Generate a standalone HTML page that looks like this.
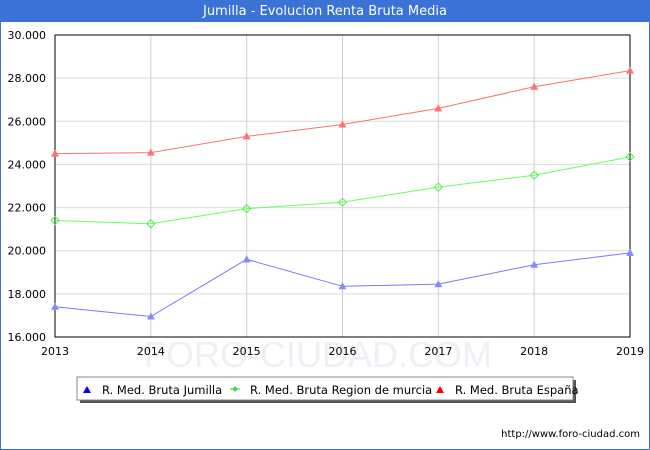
<!DOCTYPE html>
<html><head><meta charset="utf-8"><style>
body{margin:0;width:650px;height:450px;font-family:"DejaVu Sans","Liberation Sans",sans-serif;}
#wrap{position:relative;width:648px;height:448px;border:1px solid #3a72d6;background:#fff;}
#title{position:absolute;left:0;top:0;width:648px;height:21px;background:#3a72d6;color:#fff;font-size:13px;text-align:center;line-height:21px;}
</style></head><body>
<div id="wrap">
<div id="title">Jumilla - Evolucion Renta Bruta Media</div>
<svg id="chart" width="650" height="450" style="position:absolute;left:-1px;top:-1px"></svg>
</div>
<script>
const years=[2013,2014,2015,2016,2017,2018,2019];
const jumilla=[17400,16950,19600,18350,18450,19350,19900];
const murcia=[21400,21250,21950,22250,22950,23500,24350];
const espana=[24500,24550,25300,25850,26600,27600,28350];
const yTicks=[16000,18000,20000,22000,24000,26000,28000,30000];
const L=55,R=630,T=35,B=337,ymin=16000,ymax=30000;
const NS="http://www.w3.org/2000/svg";
const svg=document.getElementById('chart');
function x(i){return L+(R-L)*i/(years.length-1);}
function y(v){return B-(B-T)*(v-ymin)/(ymax-ymin);}
function mk(t,a,p){const e=document.createElementNS(NS,t);for(const k in a)e.setAttribute(k,a[k]);(p||svg).appendChild(e);return e;}
function fmt(v){return String(v).replace(/(\d)(\d{3})$/,'$1.$2');}
// watermark
const wm=mk('text',{x:318,y:367,'font-size':36,fill:'#eef0f6','text-anchor':'middle','font-family':'Liberation Sans, sans-serif'});


wm.textContent='FORO-CIUDAD.COM';
yTicks.forEach(v=>{
  const g=mk('line',{x1:L,x2:R,y1:y(v),y2:y(v),stroke:'#dcdcdc'});
  
  
  const t=mk('text',{x:46,y:y(v)+4,'font-size':11,'text-anchor':'end',fill:'#000'});
  
  
  t.textContent=fmt(v);
});
years.forEach((yr,i)=>{
  const g=mk('line',{x1:x(i),x2:x(i),y1:T,y2:B,stroke:'#cfcfcf'});
  
  
  const t=mk('text',{x:x(i),y:355,'font-size':11,'text-anchor':'middle',fill:'#000'});
  
  
  t.textContent=yr;
});
const ax=mk('rect',{x:L,y:T,width:R-L,height:B-T,fill:'none',stroke:'#000'});


function tri(cx,cy,c,p){return mk('path',{d:`M${cx-4},${cy+3}L${cx},${cy-4}L${cx+4},${cy+3}Z`,fill:c},p);}
function series(data,line,mark,kind,name){
  const pts=data.map((v,i)=>x(i)+','+y(v)).join(' ');
  const pl=mk('polyline',{points:pts,fill:'none',stroke:line,'stroke-width':1});
  
  
  data.forEach((v,i)=>{
    let m;
    if(kind==='tri'){m=tri(x(i),y(v),mark);}
    else{m=mk('path',{d:`M${x(i)-4},${y(v)}L${x(i)},${y(v)-4}L${x(i)+4},${y(v)}L${x(i)},${y(v)+4}Z`,fill:'none',stroke:mark});}
    
    
  });
}
series(espana,'#ff7070','#ff7070','tri','espana');
series(murcia,'#66ff66','#55ee55','dia','murcia');
series(jumilla,'#7777ff','#8888ff','tri','jumilla');
// legend
const lg=mk('g',{});


mk('rect',{x:80,y:380,width:496,height:23,fill:'#555'},lg);
mk('rect',{x:77,y:377,width:496,height:23,fill:'#fff',stroke:'#888'},lg);
const items=[['R. Med. Bruta Jumilla','#0000ff','tri',87],['R. Med. Bruta Region de murcia','#22cc22','dia',235],['R. Med. Bruta España','#ff0000','tri',440]];
items.forEach(([label,c,k,lx])=>{
  const g=mk('g',{},lg);
  
  
  if(k==='tri')tri(lx,390,c,g);
  else{mk('line',{x1:lx-5,x2:lx+5,y1:389,y2:389,stroke:c},g);mk('path',{d:`M${lx-2},389L${lx},387L${lx+2},389L${lx},391Z`,fill:'none',stroke:c},g);}
  const t=mk('text',{x:lx+15,y:394,'font-size':11.5,fill:'#000'},g);
  t.textContent=label;
});
const u=mk('text',{x:640,y:437,'font-size':10,'text-anchor':'end',fill:'#000'});


u.textContent='http://www.foro-ciudad.com';
</script>
</body></html>
